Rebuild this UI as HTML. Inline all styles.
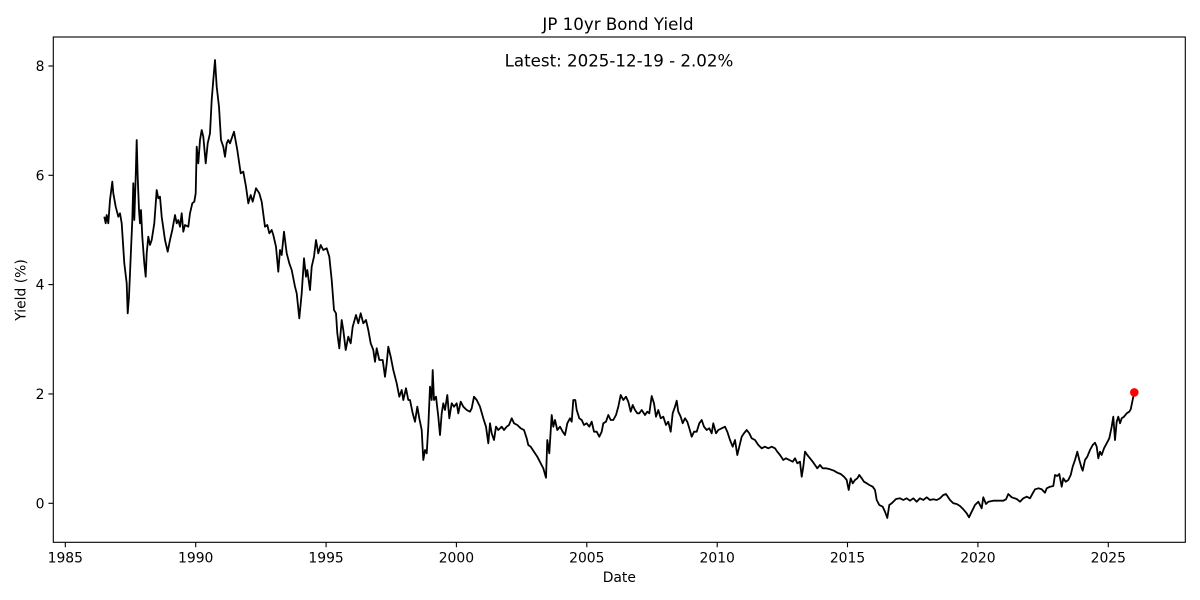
<!DOCTYPE html>
<html>
<head>
<meta charset="utf-8">
<style>
html,body{margin:0;padding:0;background:#fff;}
svg{display:block;}
text{font-family:"DejaVu Sans","Liberation Sans",sans-serif;fill:#000;}
</style>
</head>
<body>
<svg width="1200" height="600" viewBox="0 0 1200 600" xmlns="http://www.w3.org/2000/svg">
<rect x="0" y="0" width="1200" height="600" fill="#fff"/>
<!-- series -->
<polyline fill="none" stroke="#000" stroke-width="1.8" stroke-linejoin="round" points="
104.3,216.7 105.7,223.3 106.7,215 108.3,223.3 110,200 112.3,181.7 113.3,193.3 115.7,206.7 118.3,216.7 120,213.3 121.7,223.3 124.3,263.3 126.7,283.3 127.7,313.3 129,296.7 131,250 132.3,220 133.3,183.3 134.3,220 135.7,176.7 136.7,140 137.7,176.7 139,210 140,223.3 141,210 142.3,236.7 144.3,263.3 145.7,276.7 146.7,253.3 148.3,236.7 150,245 151.7,240 154.3,223.3 156.7,190 158.3,198.3 160,196.7 161.7,216.7 165,240 167.7,251.7 170,240 172.3,230 175,215 176.7,223.3 178.3,220 180,226.7 181.7,213.3 183.3,231.7 185,225 188.3,226.7 190,213.3 192.3,203.3 194.3,201.7 195.7,193.3 196.7,146.7 198.3,163.3 200,140 201.7,130 203.3,136.7 205.7,163.3 207.7,143.3 210,133.3 211.7,100 213.3,80 215,60 216.7,86.7 219,106.7 221,140 223.3,146.7 225,156.7 226.7,143.3 228.3,140
230,143.3 234,131.7 237.3,150 240.7,173.3 243.3,171.7 246,186.7 248.3,203.3 250.7,195 252.7,201.7 256,188.3 259.3,193.3 261.7,201.7 265,226.7 267.3,225 269.3,233.3 271.7,230 273.3,235 276,246.7 278.3,271.7 280,250 281.7,255 284,231.7 286.7,253.3 289.3,263.3 291.7,270 295,286.7 296.7,293.3 299.3,318.3 301.7,293.3 304,258.3 306,276.7 307.3,270 310,290 311.7,266.7 314,256.7 316,240 318.3,253.3 320.7,245 323.3,250 326.7,248.3 329.3,256.7 331.7,280 334,310 336,313.3 337.3,333.3 339.3,348.3 341.7,320 343.3,330 345.7,350 348.3,336.7 350.7,343.3 352.7,326.7 356,315 358.3,323.3 360.7,313.3 363.3,323.3 366,320 368.3,330 370.7,343.3 373.3,350 375,361.7 376.7,348.3 379.3,360 382.7,360 385,376.7 386.7,363.3 388.3,346.7 390.7,356.7 393.3,370 396.7,383.3 399.3,396.7 401.7,390 403.3,400 406,388.3 408.3,400
410,400 412.7,413.3 415,421.7 417.3,406.7 419.3,418.3 421.7,430 423.3,460 425,450 426.7,453.3 428.3,426.7 430,386.7 431.7,400 432.7,370 434,400 436,396.7 438.3,416.7 440,435 441.7,413.3 443.3,403.3 445,410 447.3,395 449.3,418.3 451.7,403.3 454,406.7 456.7,403.3 458.3,413.3 460.7,401.7 463.3,406.7 466.7,410 470,411.7 471.7,408.3 474,396.7 476.7,400 480,406.7 483.3,418.3 486,426.7 488.3,443.3 490,423.3 491.7,433.3 494,440 496,426.7 498.3,430 501.7,426.7 504,430 506.7,426.7 509,425 511.7,418.3 514,423.3 517.3,425 520.7,428.3 524,430 526.7,438.3 528.3,445 530.7,446.7 534,451.7 537.3,456.7 540.7,463.3 543.3,468.3 546,477.7 547.3,440 549.3,453.3 551.7,415 553.3,426.7 555,420 557.3,430 560,426.7 562.7,431.7 565,435 567.3,423.3 570,418.3 571.7,421.7 573.3,400 575.3,400 576.7,410 579.3,418.3 581.7,420 584,425 586.7,423.3 589.3,426.7 591.7,421.7 594,431.7 596.7,431.7 599.3,436.7 601.7,431.7 603.3,423.3 606,421.7 608.3,415 610.7,420 613.3,420 616,415 618.3,406.7 620.7,395 623.3,400 626,396.7 628.3,401.7 630.7,411.7 632.7,405 635,410 637.3,413.3
639.3,413.3 641.7,410 645,415 647.3,411.7 649.3,413.3 651.7,396 654,403.3 656,416.7 658.3,410 660.7,418.3 663.3,416.7 666,425 668.3,421.7 670.7,431.7 672.7,413.3 675,406.7 676.7,400.7 678.3,411.7 680.7,416.7 682.7,423.3 685,418.3 687.3,421.7 689.3,428.3 691.7,436.7 694,431.7 696.7,431.7 699.3,423.3 701.7,420 704,426.7 706.7,430 709.3,428.3 711.7,433.3 713.3,423.3 716,433.3 718.3,430 721.7,428.3 725,426.7 727.3,431.7 730,440 732.7,446.7 735,440 737.3,455 739.3,446.7 741.7,436.7 744,433.3 746.7,430 749.3,433.3 751.7,438.3 755,440 758.3,445 761.7,448.3 765,446.7 768.3,448.3 771.7,446.7 775,448.3 777.3,451.7 780,455 783.3,460 786,458.3 789.3,460 792.7,461.7 795,458.3 797.3,463.3 800,461.7 801.7,476.7 803.3,466.7 805,451.7 807.3,455 810,458.3 812.7,461.7 815,465 817.3,468.3 820,465 822.7,468.3 826,468.3 830,469.3 834,470.7 837.3,472.7 840.7,474 844,476.7 846.7,480 848.7,490 850.7,478.3 852.7,483.3 855,480 857.3,478.3 859.3,475 861.7,478.3 864,481.7 866.7,483.3 869.3,485 872.7,486.7 875,490 876.7,500 879.3,505 882.7,506.7 885,511.7 887.3,518 889.3,505 892,503 896,499
900,498.3 903.3,500 906.7,498.3 910,500.7 913.3,498.3 916.7,501.7 920,498.3 923.3,500 926.7,497.3 930,500 933.3,499.3 936.7,500 940,498.3 943.3,495 946,494 950,500 953.3,503.3 956.7,504 960,506 963.3,509.3 966.7,513.3 969,517.3 971.7,511.7 975,505 978.3,501.7 981.7,508.3 983.3,497.3 986,504 988.3,501.7 993.3,500.7 998.3,500.7 1003.3,500.7 1006,499.3 1008.3,494 1011.7,497.3 1016.7,499 1020,501.7 1023.3,498.3 1026.7,496.7 1030,498.3 1032.7,493.3 1035,489.3 1038.3,488.3 1041.7,489.3 1045,492.7 1046.7,488.3 1050,486.7 1053.3,486 1055,475 1057.3,476 1059.3,474 1061.7,486.7 1063.3,478.3 1065.7,481.7 1068.3,480 1070.7,475 1072.7,466.7 1075,460 1077.3,451.7 1079.3,460 1081.7,468.3 1082.7,470.7 1085,460 1087.3,456.7 1090,450 1092.7,445 1095,442.7 1096.7,446.7 1098.3,458.3 1100,451.7 1101.7,455 1104,448.3 1106.7,443.3 1109.3,438.3 1111.7,426.7 1113.3,416.7 1115,440 1116.7,421.7 1118.3,416.7 1120,423.3 1121.7,418.3 1124,416.7 1126.7,413.3 1129.3,411.7 1130.7,409.3 1132.3,401.7 1133.3,396.7 1134.3,392.3"/>
<circle cx="1134.3" cy="392.4" r="4.3" fill="#ff0000"/>
<!-- axes frame -->
<rect x="53.3" y="37" width="1132" height="505.3" fill="none" stroke="#000" stroke-width="1.1"/>
<!-- y ticks -->
<g stroke="#000" stroke-width="1.1">
<line x1="48.4" y1="503.3" x2="53.3" y2="503.3"/>
<line x1="48.4" y1="393.96" x2="53.3" y2="393.96"/>
<line x1="48.4" y1="284.6" x2="53.3" y2="284.6"/>
<line x1="48.4" y1="175.3" x2="53.3" y2="175.3"/>
<line x1="48.4" y1="66" x2="53.3" y2="66"/>
</g>
<g font-size="13.9" text-anchor="end">
<text x="44.5" y="508.3">0</text>
<text x="44.5" y="399">2</text>
<text x="44.5" y="289.6">4</text>
<text x="44.5" y="180.3">6</text>
<text x="44.5" y="71">8</text>
</g>
<!-- x ticks -->
<g stroke="#000" stroke-width="1.1">
<line x1="65.3" y1="542.3" x2="65.3" y2="547.2"/>
<line x1="195.7" y1="542.3" x2="195.7" y2="547.2"/>
<line x1="326.1" y1="542.3" x2="326.1" y2="547.2"/>
<line x1="456.4" y1="542.3" x2="456.4" y2="547.2"/>
<line x1="586.8" y1="542.3" x2="586.8" y2="547.2"/>
<line x1="717.2" y1="542.3" x2="717.2" y2="547.2"/>
<line x1="847.5" y1="542.3" x2="847.5" y2="547.2"/>
<line x1="977.9" y1="542.3" x2="977.9" y2="547.2"/>
<line x1="1108.3" y1="542.3" x2="1108.3" y2="547.2"/>
</g>
<g font-size="13.9" text-anchor="middle">
<text x="65.3" y="562.3">1985</text>
<text x="195.7" y="562.3">1990</text>
<text x="326.1" y="562.3">1995</text>
<text x="456.4" y="562.3">2000</text>
<text x="586.8" y="562.3">2005</text>
<text x="717.2" y="562.3">2010</text>
<text x="847.5" y="562.3">2015</text>
<text x="977.9" y="562.3">2020</text>
<text x="1108.3" y="562.3">2025</text>
</g>
<!-- labels -->
<text x="619.3" y="582" font-size="13.9" text-anchor="middle">Date</text>
<text transform="translate(25.5,290) rotate(-90)" font-size="13.9" text-anchor="middle">Yield (%)</text>
<text x="618" y="30" font-size="16.67" text-anchor="middle">JP 10yr Bond Yield</text>
<text x="619" y="66.5" font-size="16.67" text-anchor="middle">Latest: 2025-12-19 - 2.02%</text>
</svg>
</body>
</html>
